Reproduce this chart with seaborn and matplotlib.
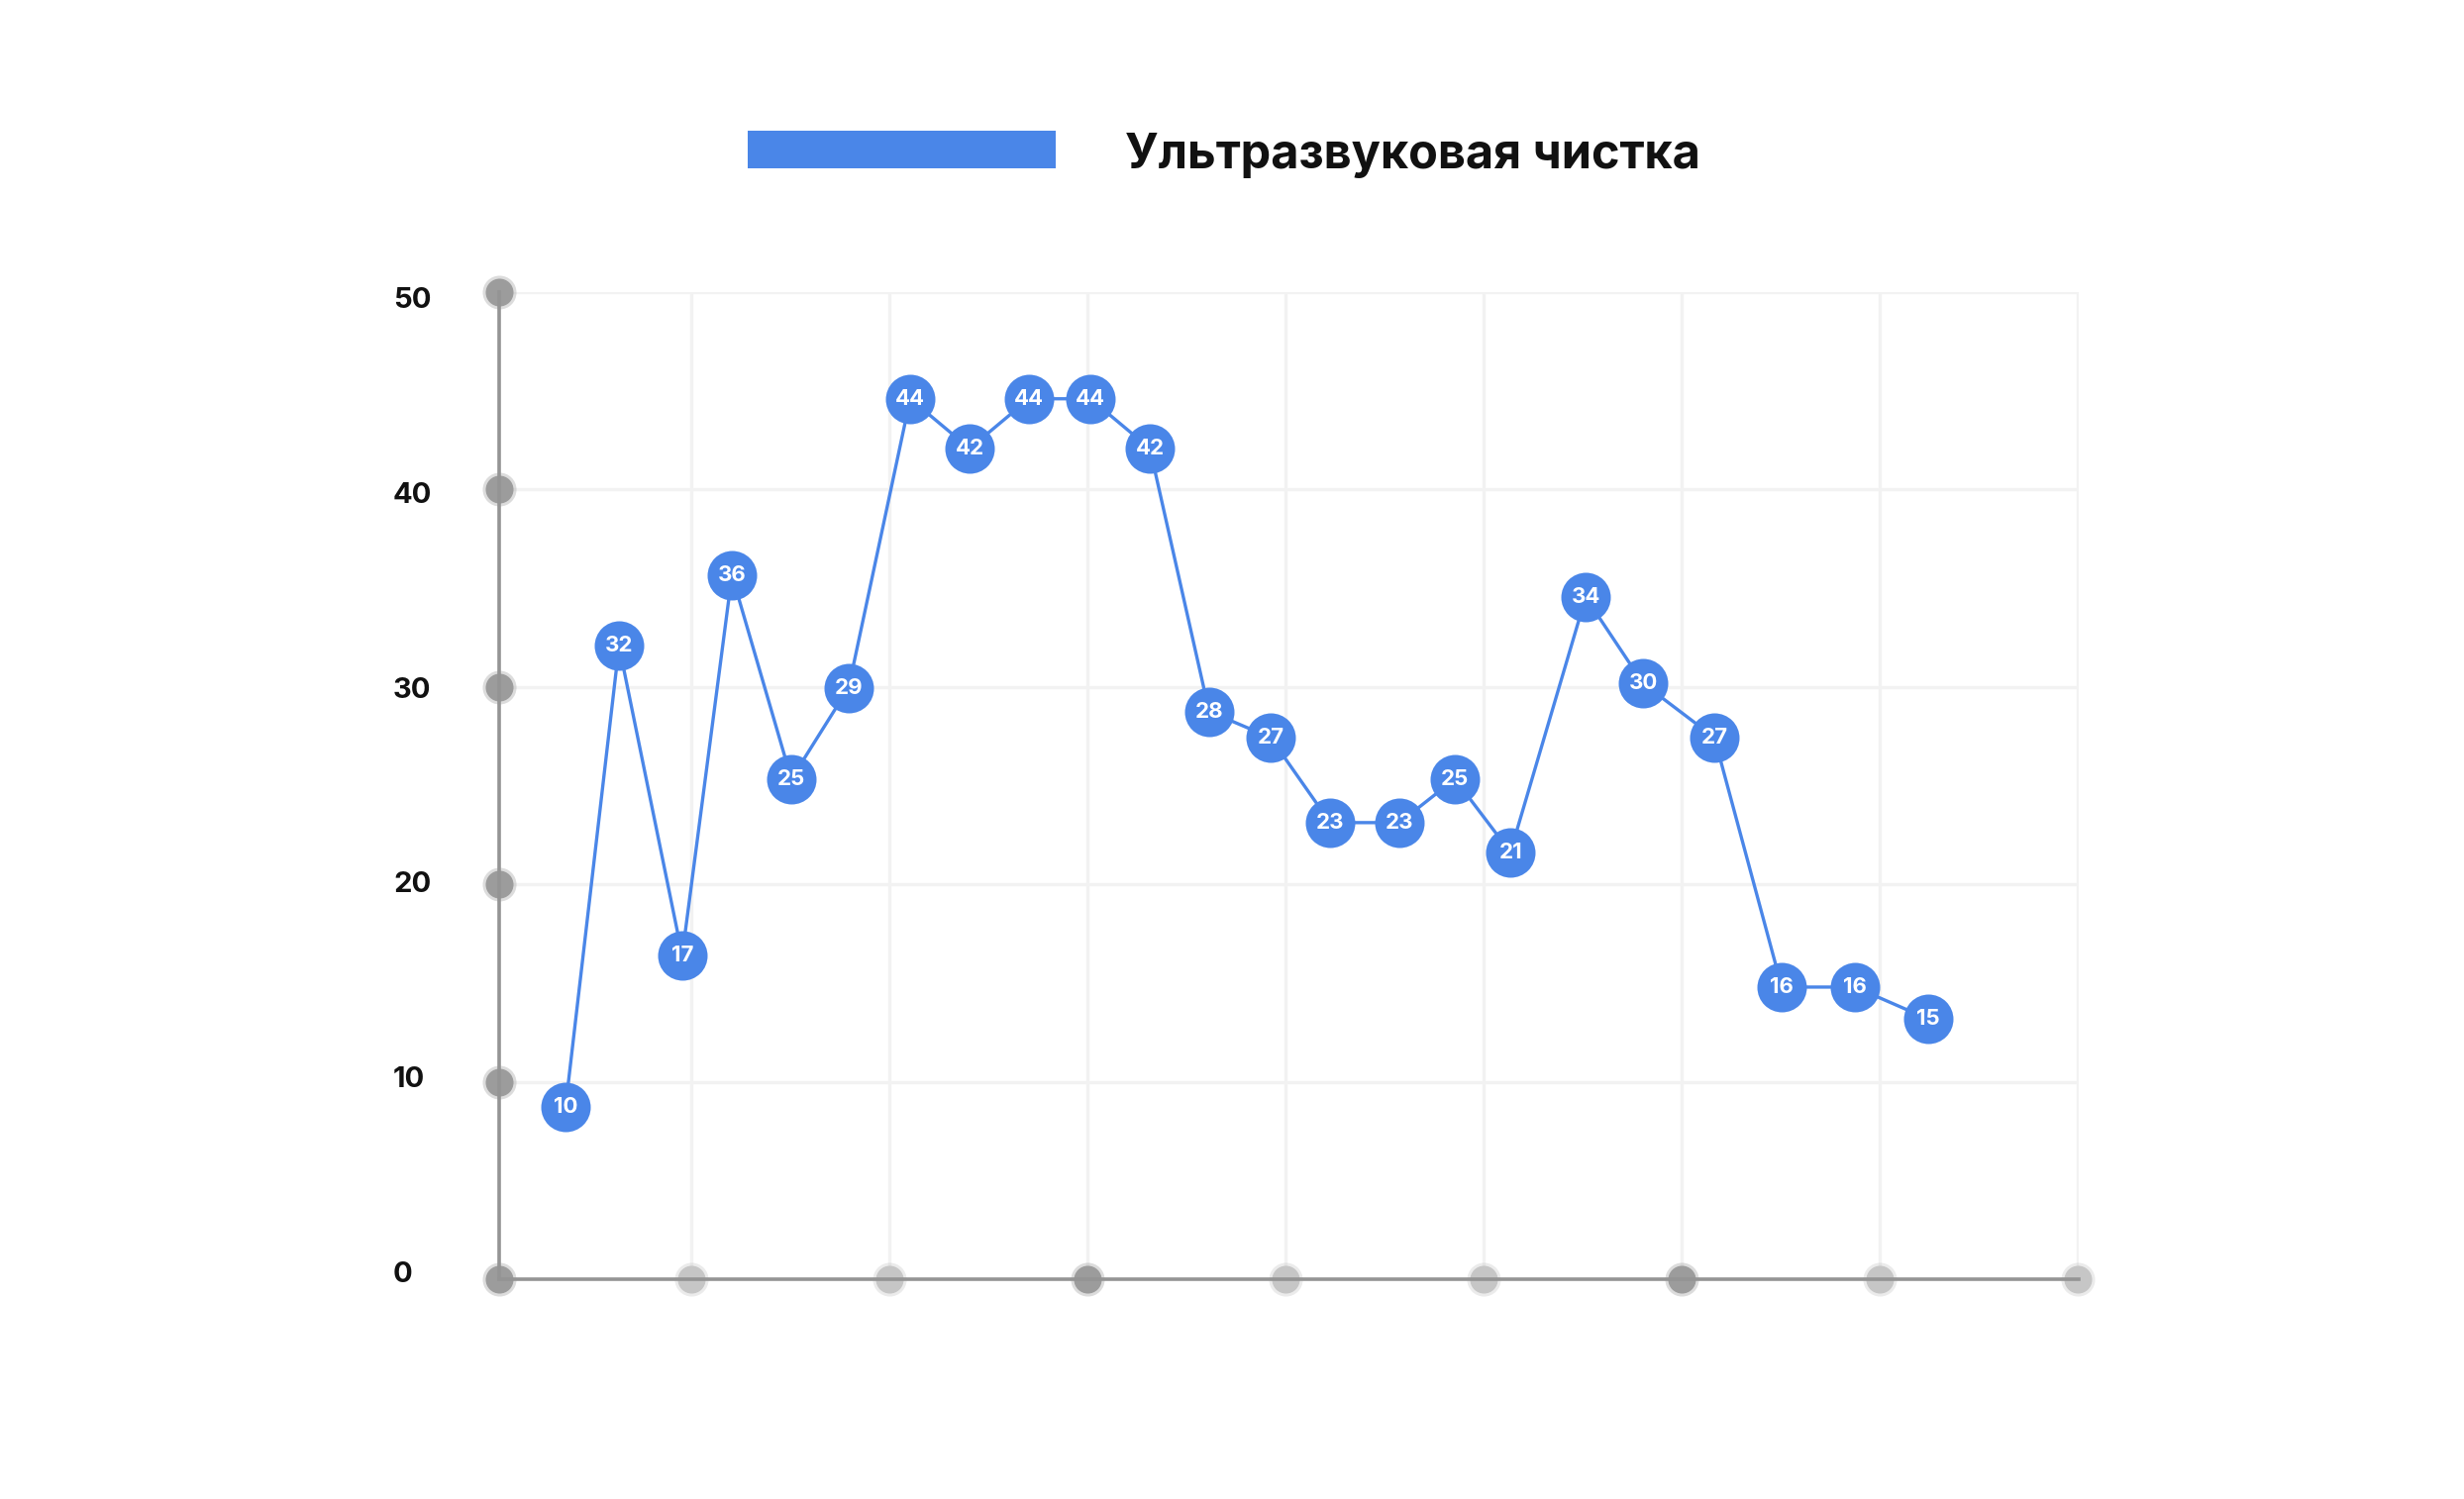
import matplotlib
matplotlib.use("Agg")
import matplotlib.pyplot as plt
import matplotlib.transforms as mtransforms
from matplotlib.patches import Rectangle
import pandas as pd
import seaborn as sns

# data
series_name = "Ультразвуковая чистка"
x_pos = [0.365, 0.635, 0.954, 1.205, 1.505, 1.794, 2.105, 2.405, 2.705, 3.015,
         3.315, 3.614, 3.924, 4.225, 4.575, 4.855, 5.135, 5.515, 5.805, 6.165,
         6.505, 6.875, 7.245]
values = [8.74, 32.08, 16.42, 35.67, 25.34, 29.96, 44.6, 42.08, 44.6, 44.6,
          42.08, 28.76, 27.44, 23.13, 23.13, 25.34, 21.63, 34.55, 30.18, 27.44,
          14.8, 14.8, 13.18]
point_labels = ["10", "32", "17", "36", "25", "29", "44", "42", "44", "44",
                "42", "28", "27", "23", "23", "25", "21", "34", "30", "27",
                "16", "16", "15"]
y_ticks = [0, 10, 20, 30, 40, 50]
x_grid = [1, 2, 3, 4, 5, 6, 7, 8]
x_dark = [3, 6]

BLUE = "#4a86e8"
AXIS = "#949494"
GRID = "#f2f2f2"
X0, X1 = 0.0275, 8.005

sns.set_theme(style="white")
plt.rcParams["font.family"] = ["Inter", "DejaVu Sans"]

fig = plt.figure(figsize=(24.88, 15.14), dpi=100)
ax = fig.add_axes([0.2024, 0.1466, 0.6413, 0.6585])

df = pd.DataFrame({"x": x_pos, "y": values})

# grid first so it sits under everything
for gx in x_grid:
    ax.axvline(gx, color=GRID, lw=2.4, zorder=0)
for gy in y_ticks[1:]:
    ax.axhline(gy, color=GRID, lw=2.4, zorder=0)

sns.lineplot(data=df, x="x", y="y", ax=ax, color=BLUE, lw=2.4,
             marker="o", markersize=36, markeredgewidth=0, zorder=5)

for xv, yv, lab in zip(x_pos, values, point_labels):
    ax.text(xv, yv, lab, ha="center", va="center", color="white",
            fontsize=16, fontweight="bold", zorder=6)

ax.set_xlim(X0, X1)
ax.set_ylim(0, 50)
ax.set_xticks([])
ax.set_yticks([])
ax.set_xlabel("")
ax.set_ylabel("")
for side in ["top", "right"]:
    ax.spines[side].set_visible(False)
for side in ["left", "bottom"]:
    ax.spines[side].set_color(AXIS)
    ax.spines[side].set_linewidth(2.6)
    ax.spines[side].set_zorder(3)

# soft gray dots on the axes
def soft_dot(xs, ys, color):
    ax.scatter(xs, ys, s=34 ** 2 * 0.52, color=color, alpha=0.35, lw=0,
               zorder=2, clip_on=False)
    ax.scatter(xs, ys, s=28 ** 2 * 0.52, color=color, lw=0,
               zorder=2, clip_on=False)

soft_dot([X0] * len(y_ticks), y_ticks, "#9c9c9c")
light = [g for g in x_grid if g not in x_dark]
soft_dot(light, [0] * len(light), "#c6c6c6")
soft_dot(x_dark, [0] * len(x_dark), "#9c9c9c")

# y tick labels, left aligned, a touch tighter than the grid
trans = mtransforms.blended_transform_factory(fig.transFigure, ax.transData)
for t in y_ticks:
    ax.text(0.1596, 0.23 + 0.987 * t, str(t), transform=trans, ha="left",
            va="center", fontsize=21, fontweight="bold", color="#111111")

# legend
fig.patches.append(Rectangle((0.3035, 0.8877), 0.125, 0.0251,
                             transform=fig.transFigure, color=BLUE, lw=0))
fig.text(0.4566, 0.896, series_name, ha="left", va="center",
         fontsize=35, fontweight="bold", color="#111111")

fig.savefig("out.png", dpi=100, facecolor="white")
